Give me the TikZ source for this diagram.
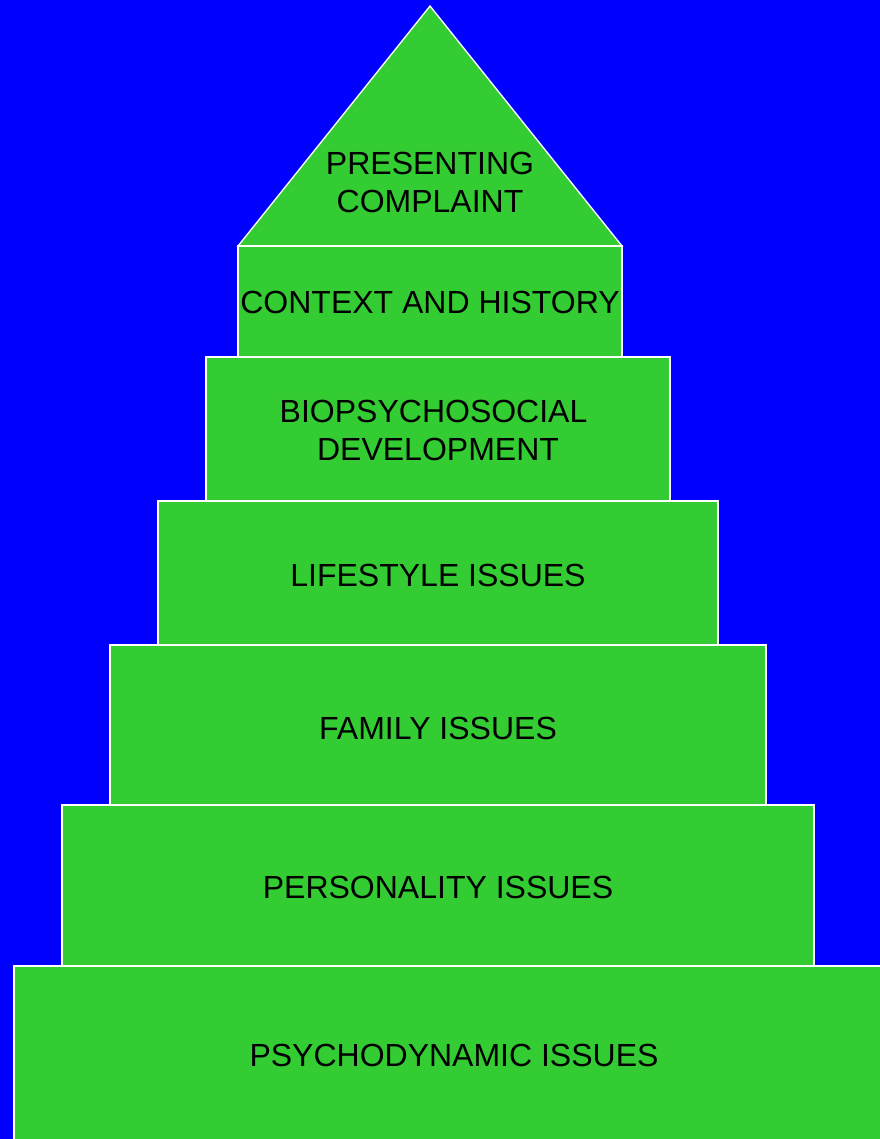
\documentclass[tikz,border=0pt]{standalone}
\usepackage{fontspec}
\setmainfont{Liberation Sans}
\usepackage{xcolor}
\definecolor{layergreen}{RGB}{51,204,51}
\definecolor{backblue}{RGB}{0,0,255}
\tikzset{layer/.style={draw=white,fill=layergreen,line width=1pt}}
\tikzset{layertext/.style={align=center,text=black,font=\fontsize{24}{28.5}\selectfont,inner sep=0pt}}

\begin{document}
\begin{tikzpicture}[x=0.75pt, y=-0.75pt]
    \fill [backblue] (0,0) rectangle (880,1139);
    \useasboundingbox (0,0) rectangle (880,1139);

    % roof
    \coordinate (apex) at (430, 6);
    \coordinate (roofL) at (238, 246);
    \coordinate (roofR) at (622, 246);
    \draw [layer, line join=miter] (roofL) -- (apex) -- (roofR) -- cycle;

    % layers, top to bottom
    \draw [layer] (238, 246) rectangle (622, 357);
    \draw [layer] (206, 357) rectangle (670, 501);
    \draw [layer] (158, 501) rectangle (718, 645);
    \draw [layer] (110, 645) rectangle (766, 805);
    \draw [layer] (62, 805) rectangle (814, 966);
    \draw [layer] (14, 966) rectangle (894, 1150);

    \node [layertext] (complaint) at (430, 182.5) {PRESENTING\\COMPLAINT};
    \node [layertext] (context) at (430, 302) {CONTEXT AND HISTORY};
    \node [layertext] (biopsycho) at (438, 430.5) {BIOPSYCHOSOCIAL\kern0.278em\\DEVELOPMENT};
    \node [layertext] (lifestyle) at (438, 575) {LIFESTYLE ISSUES};
    \node [layertext] (family) at (438, 728) {FAMILY ISSUES};
    \node [layertext] (personality) at (438, 887) {PERSONALITY ISSUES};
    \node [layertext] (psychodyn) at (454, 1055) {PSYCHODYNAMIC ISSUES};
\end{tikzpicture}
\end{document}
